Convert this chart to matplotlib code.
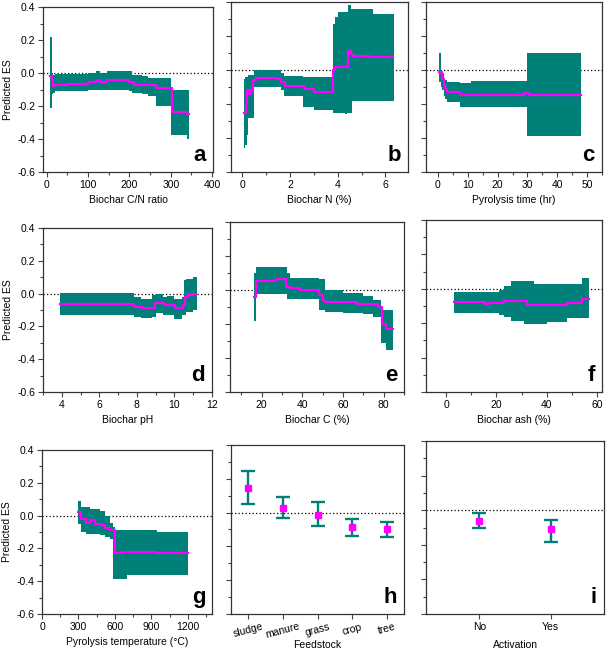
import matplotlib
matplotlib.use("Agg")
import matplotlib.pyplot as plt
from matplotlib.ticker import MultipleLocator, FormatStrFormatter

plt.rcParams['font.family'] = ['Liberation Sans', 'DejaVu Sans']
plt.rcParams['axes.unicode_minus'] = False

TEAL = '#008078'
MAG = '#ff00ff'

# ---- panel a: Biochar C/N ratio ----
a_bx = [8, 12, 15, 20, 100, 120, 130, 145, 200, 205, 230, 245, 265, 300, 340, 345]
a_lo = [-0.21, -0.13, -0.12, -0.11, -0.105, -0.10, -0.105, -0.10, -0.11, -0.12, -0.13, -0.14, -0.20, -0.375, -0.40, -0.40]
a_hi = [0.22, 0.0, -0.01, -0.005, 0.0, 0.01, 0.0, 0.01, 0.01, -0.015, -0.02, -0.03, -0.03, -0.10, -0.105, -0.105]
a_lx = [8, 12, 15, 20, 50, 100, 120, 125, 130, 145, 200, 210, 265, 303, 340, 345]
a_ly = [-0.02, -0.05, -0.08, -0.07, -0.065, -0.055, -0.05, -0.045, -0.055, -0.045, -0.055, -0.07, -0.09, -0.235, -0.25, -0.25]

# ---- panel b: Biochar N (%) ----
b_bx = [0.07, 0.12, 0.2, 0.25, 0.5, 1.6, 1.75, 2.55, 3.0, 3.8, 3.9, 4.0, 4.3, 4.4, 4.45, 4.55, 4.6, 5.5, 6.35]
b_lo = [-0.46, -0.44, -0.38, -0.28, -0.10, -0.12, -0.15, -0.22, -0.235, -0.25, -0.25, -0.25, -0.26, -0.25, -0.25, -0.25, -0.18, -0.18, -0.18]
b_hi = [-0.05, -0.04, -0.04, -0.03, 0.0, -0.02, -0.035, -0.04, -0.04, 0.27, 0.31, 0.34, 0.34, 0.34, 0.38, 0.36, 0.36, 0.33, 0.33]
b_lx = [0.07, 0.15, 0.2, 0.28, 0.35, 0.45, 0.55, 1.5, 1.6, 1.8, 2.6, 3.0, 3.8, 3.9, 4.45, 4.55, 4.65, 5.3, 6.3]
b_ly = [-0.25, -0.2, -0.12, -0.14, -0.12, -0.06, -0.045, -0.05, -0.07, -0.095, -0.11, -0.13, 0.0, 0.02, 0.11, 0.095, 0.08, 0.075, 0.075]

# ---- panel c: Pyrolysis time (hr) ----
c_bx = [0.2, 1.0, 1.5, 2.0, 2.5, 3.0, 7.5, 11, 30, 48]
c_lo = [-0.07, -0.10, -0.12, -0.15, -0.17, -0.19, -0.215, -0.215, -0.39, -0.39]
c_hi = [0.10, 0.0, -0.02, -0.05, -0.06, -0.07, -0.075, -0.065, 0.10, 0.10]
c_lx = [0.3, 1.0, 1.5, 2.0, 2.5, 3.0, 7.5, 29, 30.5, 48]
c_ly = [-0.01, -0.01, -0.05, -0.09, -0.11, -0.13, -0.145, -0.135, -0.145, -0.145]

# ---- panel d: Biochar pH ----
d_bx = [3.9, 7.85, 8.2, 8.8, 9.0, 9.4, 9.6, 10.0, 10.4, 10.5, 10.6, 11.0, 11.2]
d_lo = [-0.13, -0.14, -0.15, -0.14, -0.12, -0.13, -0.13, -0.155, -0.13, -0.13, -0.11, -0.10, -0.10]
d_hi = [0.005, -0.02, -0.03, -0.01, -0.005, -0.02, -0.015, -0.03, -0.02, 0.08, 0.09, 0.10, 0.10]
d_lx = [3.9, 7.85, 8.25, 8.95, 9.45, 10.05, 10.45, 10.55, 10.7, 10.85, 11.0, 11.15]
d_ly = [-0.065, -0.08, -0.09, -0.06, -0.07, -0.09, -0.07, -0.02, -0.005, -0.01, -0.005, -0.005]

# ---- panel e: Biochar C (%) ----
e_bx = [16.5, 17.3, 32.6, 34, 48, 51, 60, 70, 75, 78.5, 81, 84.5]
e_lo = [-0.18, -0.025, -0.05, -0.05, -0.12, -0.13, -0.135, -0.14, -0.16, -0.31, -0.35, -0.35]
e_hi = [0.10, 0.137, 0.10, 0.07, 0.065, 0.0, -0.02, -0.035, -0.06, -0.12, -0.12, -0.12]
e_lx = [16.5, 17.3, 27, 32, 34, 39, 48, 50, 51, 67, 74, 77, 79, 81, 84.5]
e_ly = [-0.04, 0.055, 0.065, 0.02, 0.01, 0.0, -0.03, -0.06, -0.07, -0.085, -0.08, -0.10, -0.20, -0.23, -0.23]

# ---- panel f: Biochar ash (%) ----
f_bx = [3, 21, 23, 25, 26, 31, 35, 40, 48, 54, 57]
f_lo = [-0.14, -0.15, -0.165, -0.165, -0.185, -0.205, -0.205, -0.195, -0.17, -0.17, -0.17]
f_hi = [-0.02, -0.006, 0.018, 0.018, 0.044, 0.044, 0.03, 0.03, 0.03, 0.063, 0.063]
f_lx = [3, 15.5, 17, 23, 24, 32, 48, 54, 57]
f_ly = [-0.075, -0.09, -0.08, -0.065, -0.073, -0.095, -0.085, -0.06, -0.06]

# ---- panel g: Pyrolysis temperature (°C) ----
g_bx = [300, 325, 366, 394, 476, 517, 559, 586, 600, 696, 944, 1205]
g_lo = [-0.05, -0.10, -0.11, -0.11, -0.12, -0.13, -0.14, -0.385, -0.385, -0.365, -0.365, -0.365]
g_hi = [0.09, 0.054, 0.054, 0.04, 0.027, -0.004, -0.045, -0.07, -0.09, -0.09, -0.103, -0.103]
g_lx = [300, 325, 366, 394, 435, 476, 517, 559, 600, 655, 944, 1205]
g_ly = [0.02, -0.02, -0.045, -0.025, -0.05, -0.06, -0.075, -0.09, -0.23, -0.22, -0.23, -0.23]

# ---- panel h: Feedstock ----
h_cats = ['sludge', 'manure', 'grass', 'crop', 'tree']
h_mean = [0.148, 0.028, -0.016, -0.087, -0.097]
h_low = [0.049, -0.030, -0.079, -0.138, -0.144]
h_up = [0.247, 0.091, 0.061, -0.036, -0.053]

# ---- panel i: Activation ----
i_cats = ['No', 'Yes']
i_mean = [-0.062, -0.110]
i_low = [-0.102, -0.181]
i_up = [-0.019, -0.054]

W, H = 609, 651
fig = plt.figure(figsize=(W / 100, H / 100), dpi=100)


def make_ax(x0, x1, y0, y1):
    return fig.add_axes([x0 / W, 1 - y1 / H, (x1 - x0) / W, (y1 - y0) / H])


FS = 7.5


def style(ax, letter, xlabel, ylab, xlim, xmaj, xmin):
    ax.set_ylim(-0.6, 0.4)
    ax.set_xlim(*xlim)
    ax.yaxis.set_major_locator(MultipleLocator(0.2))
    ax.yaxis.set_minor_locator(MultipleLocator(0.1))
    if xmaj is not None:
        ax.xaxis.set_major_locator(MultipleLocator(xmaj))
        ax.xaxis.set_minor_locator(MultipleLocator(xmin))
    ax.yaxis.set_major_formatter(FormatStrFormatter('%.1f'))
    ax.tick_params(which='major', direction='out', length=3.5, width=0.8, labelsize=FS, pad=2, color='#444444')
    ax.tick_params(which='minor', direction='out', length=2, width=0.8, color='#444444')
    for s in ax.spines.values():
        s.set_linewidth(0.9)
        s.set_color('#333333')
    if ylab:
        ax.set_ylabel('Predicted ES', fontsize=FS, labelpad=3)
    else:
        ax.tick_params(axis='y', labelleft=False)
    ax.set_xlabel(xlabel, fontsize=FS, labelpad=4)
    ax.axhline(0, color='black', lw=0.9, ls=(0, (1, 1.8)), zorder=1)
    ax.text(0.96, 0.035, letter, transform=ax.transAxes, ha='right', va='bottom',
            fontsize=16, fontweight='bold')


def band(ax, bx, lo, hi, lx, ly):
    ax.fill_between(bx, lo, hi, step='post', color=TEAL, lw=0, zorder=2)
    ax.step(lx, ly, where='post', color=MAG, lw=1.6, zorder=3)


ax = make_ax(43, 213, 7, 172)
band(ax, a_bx, a_lo, a_hi, a_lx, a_ly)
style(ax, 'a', 'Biochar C/N ratio', True, (-9, 402), 100, 50)

ax = make_ax(231, 408, 2, 172)
band(ax, b_bx, b_lo, b_hi, b_lx, b_ly)
style(ax, 'b', 'Biochar N (%)', False, (-0.48, 6.95), 2, 1)

ax = make_ax(426, 602, 2, 172)
band(ax, c_bx, c_lo, c_hi, c_lx, c_ly)
style(ax, 'c', 'Pyrolysis time (hr)', False, (-4, 55), 10, 5)

ax = make_ax(43, 212, 228, 392)
band(ax, d_bx, d_lo, d_hi, d_lx, d_ly)
style(ax, 'd', 'Biochar pH', True, (3, 12), 2, 1)

ax = make_ax(230, 404, 222, 392)
band(ax, e_bx, e_lo, e_hi, e_lx, e_ly)
style(ax, 'e', 'Biochar C (%)', False, (4.5, 90), 20, 10)

ax = make_ax(426, 602, 220, 392)
band(ax, f_bx, f_lo, f_hi, f_lx, f_ly)
style(ax, 'f', 'Biochar ash (%)', False, (-8, 62), 20, 10)

ax = make_ax(42, 212, 450, 614)
band(ax, g_bx, g_lo, g_hi, g_lx, g_ly)
style(ax, 'g', 'Pyrolysis temperature (°C)', True, (0, 1400), 300, 150)

ax = make_ax(231, 404, 445, 614)
xs = list(range(len(h_cats)))
ax.errorbar(xs, h_mean, yerr=[[m - l for m, l in zip(h_mean, h_low)], [u - m for m, u in zip(h_mean, h_up)]],
            fmt='s', color=MAG, ms=5, ecolor=TEAL, elinewidth=1.7, capsize=4.8, capthick=1.7, zorder=3)
style(ax, 'h', 'Feedstock', False, (-0.5, 4.5), None, None)
ax.set_xticks(xs)
ax.set_xticklabels(h_cats, rotation=15, fontsize=FS)
ax.tick_params(axis='x', which='minor', bottom=False)
ax.xaxis.set_label_coords(0.5, -0.155)

ax = make_ax(426, 604, 441, 614)
xs = list(range(len(i_cats)))
ax.errorbar(xs, i_mean, yerr=[[m - l for m, l in zip(i_mean, i_low)], [u - m for m, u in zip(i_mean, i_up)]],
            fmt='s', color=MAG, ms=5, ecolor=TEAL, elinewidth=1.7, capsize=4.8, capthick=1.7, zorder=3)
style(ax, 'i', 'Activation', False, (-0.75, 1.75), None, None)
ax.set_xticks(xs)
ax.set_xticklabels(i_cats, fontsize=FS)
ax.tick_params(axis='x', which='minor', bottom=False)
ax.xaxis.set_label_coords(0.5, -0.152)

fig.savefig('out.png', dpi=100)
